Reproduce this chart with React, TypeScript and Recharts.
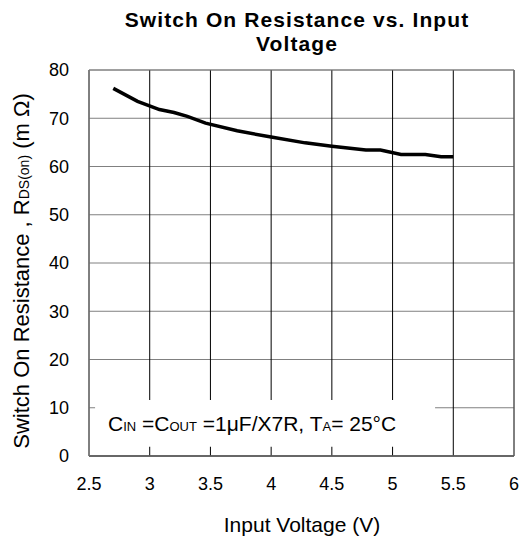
import React from 'react';
import { LineChart, Line, XAxis, YAxis, CartesianGrid, ReferenceArea, Label } from 'recharts';

const FONT = '"Liberation Sans", Arial, sans-serif';

// input voltage (V) and switch on resistance (mOhm)
const voltage = [2.7, 2.9, 3.08, 3.2, 3.31, 3.46, 3.72, 4.0, 4.28, 4.5, 4.78, 4.9, 5.07, 5.27, 5.4, 5.5];
const resistance = [76.2, 73.5, 71.8, 71.2, 70.4, 69.0, 67.4, 66.1, 64.9, 64.2, 63.4, 63.4, 62.5, 62.5, 62.0, 62.0];

const xTicks = [2.5, 3, 3.5, 4, 4.5, 5, 5.5, 6];
const yTicks = [0, 10, 20, 30, 40, 50, 60, 70, 80];

const data = voltage.map((v, i) => ({ v, r: resistance[i] }));

const YTitle = () => (
  <text
    x={29}
    y={271}
    transform="rotate(-90 29 271)"
    textAnchor="middle"
    fontFamily={FONT}
    fontSize={22}
    fill="#000"
  >
    <tspan>Switch On Resistance , R</tspan>
    <tspan fontSize={14}>DS(on)</tspan>
    <tspan> (m Ω)</tspan>
  </text>
);

const XTitle = () => (
  <text x={302} y={532} textAnchor="middle" fontFamily={FONT} fontSize={21} fill="#000">
    Input Voltage (V)
  </text>
);

const Note = (props: any) => {
  const { x, y, height } = props.viewBox;
  return (
    <text x={x + 13} y={y + height / 2 + 8} fontFamily={FONT} fontSize={21} fill="#000">
      <tspan>C</tspan>
      <tspan fontSize={13}>IN</tspan>
      <tspan> =C</tspan>
      <tspan fontSize={13}>OUT</tspan>
      <tspan> =1μF/X7R, T</tspan>
      <tspan fontSize={13}>A</tspan>
      <tspan>= 25°C</tspan>
    </text>
  );
};

export default function App() {
  return (
    <div style={{ position: 'absolute', left: 0, top: 0, width: 523, height: 541, background: '#fff' }}>
      <div
        style={{
          position: 'absolute',
          left: 77,
          width: 440,
          top: 8,
          textAlign: 'center',
          fontFamily: FONT,
          fontWeight: 'bold',
          fontSize: 21,
          lineHeight: '23.5px',
          letterSpacing: 1.1,
          color: '#000',
        }}
      >
        <div>Switch On Resistance vs. Input</div>
        <div>Voltage</div>
      </div>
      <LineChart width={523} height={541} data={data} margin={{ top: 70, right: 9, bottom: 0, left: 0 }}>
        <CartesianGrid horizontal={true} vertical={false} stroke="#808080" />
        <CartesianGrid horizontal={false} vertical={true} stroke="#000" />
        <XAxis
          dataKey="v"
          type="number"
          domain={[2.5, 6]}
          ticks={xTicks}
          height={85}
          tickSize={0}
          tickMargin={21}
          axisLine={{ stroke: '#555', strokeWidth: 1.5 }}
          tick={{ fill: '#000', fontFamily: FONT, fontSize: 18 }}
        >
          <Label content={<XTitle />} />
        </XAxis>
        <YAxis
          type="number"
          domain={[0, 80]}
          ticks={yTicks}
          width={89}
          tickSize={0}
          tickMargin={20}
          axisLine={{ stroke: '#808080' }}
          tick={{ fill: '#000', fontFamily: FONT, fontSize: 18 }}
        >
          <Label content={<YTitle />} />
        </YAxis>
        <ReferenceArea x1={2.5} x2={6} y1={0} y2={80} fill="none" stroke="#808080" />
        <ReferenceArea x1={2.55} x2={5.35} y1={1.9} y2={11.6} fill="#fff" fillOpacity={1} stroke="none" label={<Note />} />
        <Line
          type="linear"
          dataKey="r"
          stroke="#000"
          strokeWidth={3.5}
          dot={false}
          isAnimationActive={false}
        />
      </LineChart>
    </div>
  );
}
